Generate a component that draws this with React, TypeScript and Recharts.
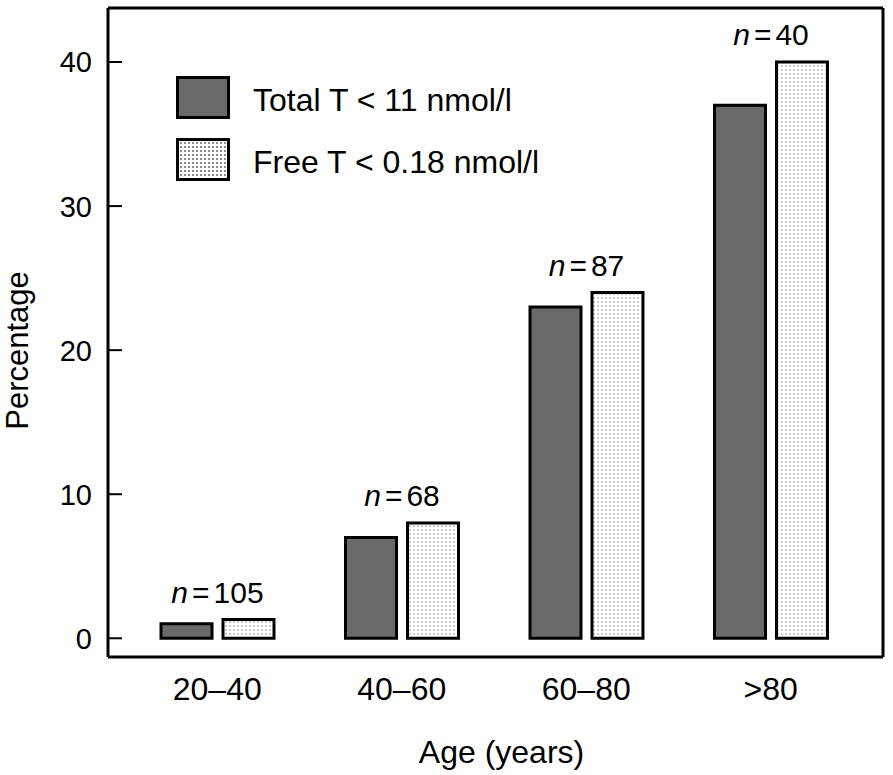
import React from 'react';
import { BarChart, Bar, XAxis, YAxis, Legend, LabelList, Label, CartesianGrid } from 'recharts';

const ageGroups = ['20–40', '40–60', '60–80', '>80'];
const totalTLow = [1.0, 7.0, 23.0, 37.0];
const freeTLow = [1.3, 8.0, 24.0, 40.0];
const groupN = [105, 68, 87, 40];
const yTicks = [0, 10, 20, 30, 40];

const seriesNames = {
  total: 'Total T < 11 nmol/l',
  free: 'Free T < 0.18 nmol/l',
};

const data = ageGroups.map((age, i) => ({
  age,
  total: totalTLow[i],
  free: freeTLow[i],
  n: groupN[i],
}));

const FONT = '"Liberation Sans", Arial, Helvetica, sans-serif';
const BAR_SIZE = 51;
const BAR_GAP = 11;
const DARK = '#6a6a6a';

const YTick = (props: any) => {
  const { x, y, payload } = props;
  return (
    <g>
      <line x1={x + 16} x2={x + 30} y1={y} y2={y} stroke="#000" strokeWidth={2} />
      <text x={x} y={y} dy="0.36em" textAnchor="end" fontSize={29} fontFamily={FONT} fill="#000">
        {payload.value}
      </text>
    </g>
  );
};

const XTick = (props: any) => {
  const { x, y, payload } = props;
  return (
    <text x={x} y={y} dy={43} textAnchor="middle" fontSize={32} fontFamily={FONT} fill="#000">
      {payload.value}
    </text>
  );
};

const YTitle = (props: any) => {
  const { viewBox } = props;
  const cx = viewBox.x + 28;
  const cy = viewBox.y + viewBox.height / 2 + 18;
  return (
    <text
      x={cx}
      y={cy}
      transform={`rotate(-90, ${cx}, ${cy})`}
      textAnchor="middle"
      fontSize={31}
      fontFamily={FONT}
      fill="#000"
    >
      Percentage
    </text>
  );
};

const XTitle = (props: any) => {
  const { viewBox } = props;
  return (
    <text
      x={viewBox.x + viewBox.width / 2 + 6}
      y={viewBox.y + 106}
      textAnchor="middle"
      fontSize={32}
      fontFamily={FONT}
      fill="#000"
    >
      Age (years)
    </text>
  );
};

// n label sits over the middle of each pair, hung off the taller (free T) bar
const NLabel = (props: any) => {
  const { x, y, value } = props;
  return (
    <text x={x - BAR_GAP / 2} y={y - 17} textAnchor="middle" fontSize={30} fontFamily={FONT} fill="#000">
      <tspan fontStyle="italic">n</tspan>
      <tspan dx={4}>=</tspan>
      <tspan dx={4}>{value}</tspan>
    </text>
  );
};

const swatchStyle: Record<string, React.CSSProperties> = {
  total: { background: DARK },
  free: {
    backgroundColor: '#fff',
    backgroundImage: 'radial-gradient(circle, #8c8c8c 0.8px, transparent 1.1px)',
    backgroundSize: '4px 4px',
  },
};

const LegendBox = () => (
  <div style={{ fontFamily: FONT }}>
    {(['total', 'free'] as const).map((key, i) => (
      <div
        key={key}
        style={{ display: 'flex', alignItems: 'center', height: 43, marginBottom: i === 0 ? 19 : 0 }}
      >
        <div
          style={{
            boxSizing: 'border-box',
            width: 54,
            height: 43,
            border: '3px solid #000',
            ...swatchStyle[key],
          }}
        />
        <span style={{ marginLeft: 23, fontSize: 32, lineHeight: 1, paddingTop: 4, color: '#000', whiteSpace: 'nowrap' }}>
          {seriesNames[key]}
        </span>
      </div>
    ))}
  </div>
);

const App: React.FC = () => {
  const frame = { stroke: '#000', strokeWidth: 3 };
  return (
    <div style={{ position: 'absolute', left: 0, top: 0, background: '#fff' }}>
      <BarChart
        width={893}
        height={775}
        data={data}
        margin={{ top: 8, right: 10, bottom: 0, left: 0 }}
        barSize={BAR_SIZE}
        barGap={BAR_GAP}
      >
        <defs>
          <pattern id="freeDots" width="4" height="4" patternUnits="userSpaceOnUse">
            <rect width="4" height="4" fill="#fff" />
            <circle cx="2" cy="2" r="0.8" fill="#8c8c8c" />
          </pattern>
        </defs>
        {/* top and right edges of the frame */}
        <CartesianGrid
          stroke="#000"
          strokeWidth={3}
          horizontalCoordinatesGenerator={({ offset }: any) => [offset.top]}
          verticalCoordinatesGenerator={({ offset }: any) => [offset.left + offset.width]}
        />
        <XAxis
          dataKey="age"
          height={118}
          padding={{ left: 17, right: 20 }}
          axisLine={frame}
          tickLine={false}
          tickSize={0}
          tickMargin={0}
          tick={XTick}
          interval={0}
        >
          <Label content={XTitle} />
        </XAxis>
        <YAxis
          width={108}
          domain={[-1.3, 43.75]}
          ticks={yTicks}
          allowDataOverflow
          axisLine={frame}
          tickLine={false}
          tickSize={0}
          tickMargin={16}
          tick={YTick}
        >
          <Label content={YTitle} />
        </YAxis>
        <Legend
          layout="vertical"
          align="center"
          verticalAlign="middle"
          wrapperStyle={{ left: 176, top: 76, width: 'auto' }}
          content={LegendBox}
        />
        <Bar dataKey="total" name={seriesNames.total} fill={DARK} stroke="#000" strokeWidth={3} isAnimationActive={false} />
        <Bar dataKey="free" name={seriesNames.free} fill="url(#freeDots)" stroke="#000" strokeWidth={3} isAnimationActive={false}>
          <LabelList dataKey="n" content={NLabel} />
        </Bar>
      </BarChart>
    </div>
  );
};

export default App;
